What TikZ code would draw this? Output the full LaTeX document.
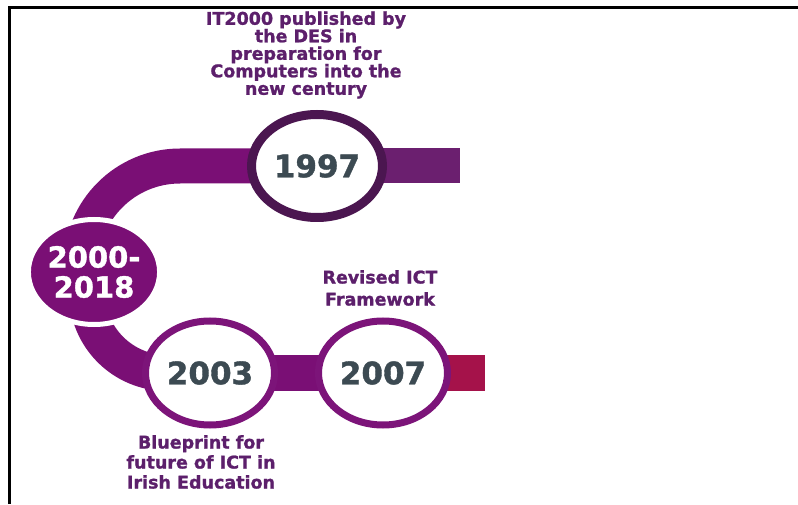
\documentclass[tikz,border=0pt]{standalone}
\usepackage{fontspec}
\setmainfont{DejaVu Sans}
\newfontfamily\heavyfont[FakeBold=1.2]{DejaVu Sans Bold}
\usetikzlibrary{shapes.geometric}
\definecolor{barpurple}{HTML}{7A0F75}
\definecolor{barlight}{HTML}{6B1F6F}
\definecolor{barred}{HTML}{A5124A}
\definecolor{ringdark}{HTML}{4B1650}
\definecolor{ringpurple}{HTML}{7C1479}
\definecolor{yeartext}{HTML}{3C4A52}
\definecolor{labeltext}{HTML}{5C1F6B}
\pgfdeclarelayer{background}
\pgfsetlayers{background,main}
\tikzset{
  yearnode/.style={ellipse, inner sep=0pt, fill=white, text=yeartext,
    font=\heavyfont\fontsize{31}{32}\selectfont},
  bandtop/.style={line width=35pt, line join=round},
  bandlow/.style={line width=36pt, line join=round},
  labelnode/.style={align=center, text=labeltext, inner sep=0pt},
}
\begin{document}
\begin{tikzpicture}[x=1pt,y=1pt]
\useasboundingbox (0,0) rectangle (798,504);
% frame
\draw[line width=3pt] (9.5,0) -- (9.5,496.5) -- (798,496.5);

% nodes
\node[yearnode, draw=ringdark, line width=9pt, minimum width=131pt, minimum height=103pt] (n1997) at (317,338) {1997};
\node[ellipse, inner sep=0pt, fill=barpurple, draw=white, line width=5pt,
      minimum width=129pt, minimum height=105pt, text=white, align=center,
      font=\heavyfont\fontsize{29}{30}\selectfont] (n2000) at (94,232) {2000-\\2018};
\node[yearnode, draw=ringpurple, line width=7pt, minimum width=129pt, minimum height=104pt] (n2003) at (210,131) {2003};
\node[yearnode, draw=ringpurple, line width=7pt, minimum width=129pt, minimum height=104pt] (n2007) at (383,131) {2007};

\coordinate (e1997) at (460,338);
\coordinate (a1) at (180,338);
\coordinate (a2) at (87,211);
\coordinate (e2007) at (485,131);

% labels
\node[labelnode, font=\heavyfont\fontsize{17.5}{17.5}\selectfont] (l1997) at (306,449)
  {IT2000 published by\\the DES in\\preparation for\\Computers into the\\new century};
\node[labelnode, font=\heavyfont\fontsize{17.5}{22}\selectfont] (l2007) at (380,216)
  {Revised ICT\\Framework};
\node[labelnode, font=\heavyfont\fontsize{17.5}{20}\selectfont] (l2003) at (201,42)
  {Blueprint for\\future of ICT in\\Irish Education};

% bands
\begin{pgfonlayer}{background}
  \draw[bandtop, barpurple] (n1997.center) -- (a1) arc[start angle=90, end angle=180, radius=99pt] -- (n2000.center);
  \draw[bandtop, barlight] (n1997.center) -- (e1997);
  \draw[bandlow, barpurple] (n2000.center) -- (a2) arc[start angle=180, end angle=270, radius=80pt] -- (n2003.center);
  \draw[bandlow, barpurple] (n2003.center) -- (n2007.center);
  \draw[bandlow, barred] (n2007.center) -- (e2007);
\end{pgfonlayer}
\end{tikzpicture}
\end{document}
